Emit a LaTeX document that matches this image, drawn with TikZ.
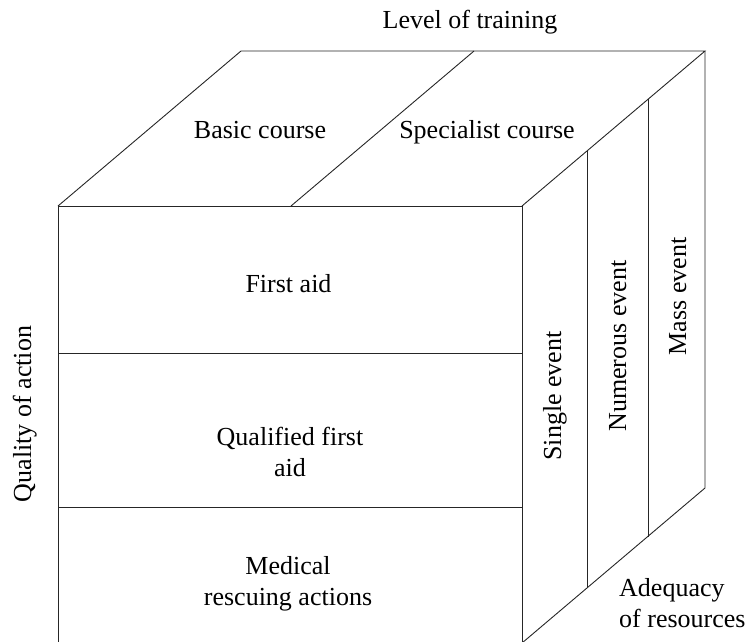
\documentclass[tikz,border=0pt]{standalone}
\usepackage{fontspec}
\setmainfont{Liberation Serif}
\begin{document}
\begin{tikzpicture}[x=1pt,y=-1pt,
  edge/.style={draw=black!85, line width=0.9pt, line join=miter},
  lbl/.style={font=\fontsize{26}{31}\selectfont, inner sep=0pt, text=black}]
\useasboundingbox (0,0) rectangle (746,641);
\begin{scope}
\clip (0,0) rectangle (746,641);
% cube corners
\coordinate (FTL) at (58,206);
\coordinate (FTR) at (522,206);
\coordinate (FBL) at (58,643);
\coordinate (FBR) at (522,643);
\coordinate (BTL) at (241,51);
\coordinate (BTR) at (705,51);
\coordinate (BBR) at (705,488);
% divider end points
\coordinate (TDf) at (291,206);
\coordinate (TDb) at (474,51);
\coordinate (H1l) at (58,353);
\coordinate (H1r) at (522,353);
\coordinate (H2l) at (58,507);
\coordinate (H2r) at (522,507);
\coordinate (V1t) at (587,151);
\coordinate (V1b) at (587,588);
\coordinate (V2t) at (648,99.3);
\coordinate (V2b) at (648,536.5);
% front face
\draw[edge] (FBL) -- (FTL) -- (FTR) -- (FBR);
\draw[edge] (H1l) -- (H1r);
\draw[edge] (H2l) -- (H2r);
% top face
\draw[edge] (FTL) -- (BTL) -- (BTR) -- (FTR);
\draw[edge] (TDf) -- (TDb);
% right face
\draw[edge] (BTR) -- (BBR) -- (FBR);
\draw[edge] (V1t) -- (V1b);
\draw[edge] (V2t) -- (V2b);
\end{scope}
% labels
\node[lbl, anchor=base] (lt) at (470,28) {Level of training};
\node[lbl, anchor=base] (bc) at (260,138) {Basic course};
\node[lbl, anchor=base] (sc) at (487,138) {Specialist course};
\node[lbl, anchor=base] (fa) at (288.5,292) {First aid};
\node[lbl, anchor=north, align=center] (qfa) at (290,427) {Qualified first\\aid};
\node[lbl, anchor=north, align=center] (mra) at (288,556) {Medical\\rescuing actions};
\node[lbl, anchor=base, rotate=90] (qa) at (31,414) {Quality of action};
\node[lbl, anchor=base, rotate=90] (se) at (561,396) {Single event};
\node[lbl, anchor=base, rotate=90] (ne) at (626,346) {Numerous event};
\node[lbl, anchor=base, rotate=90] (me) at (686,296.5) {Mass event};
\node[lbl, anchor=north west, align=left] (ar) at (619,578) {Adequacy\\of resources};
\end{tikzpicture}
\end{document}
